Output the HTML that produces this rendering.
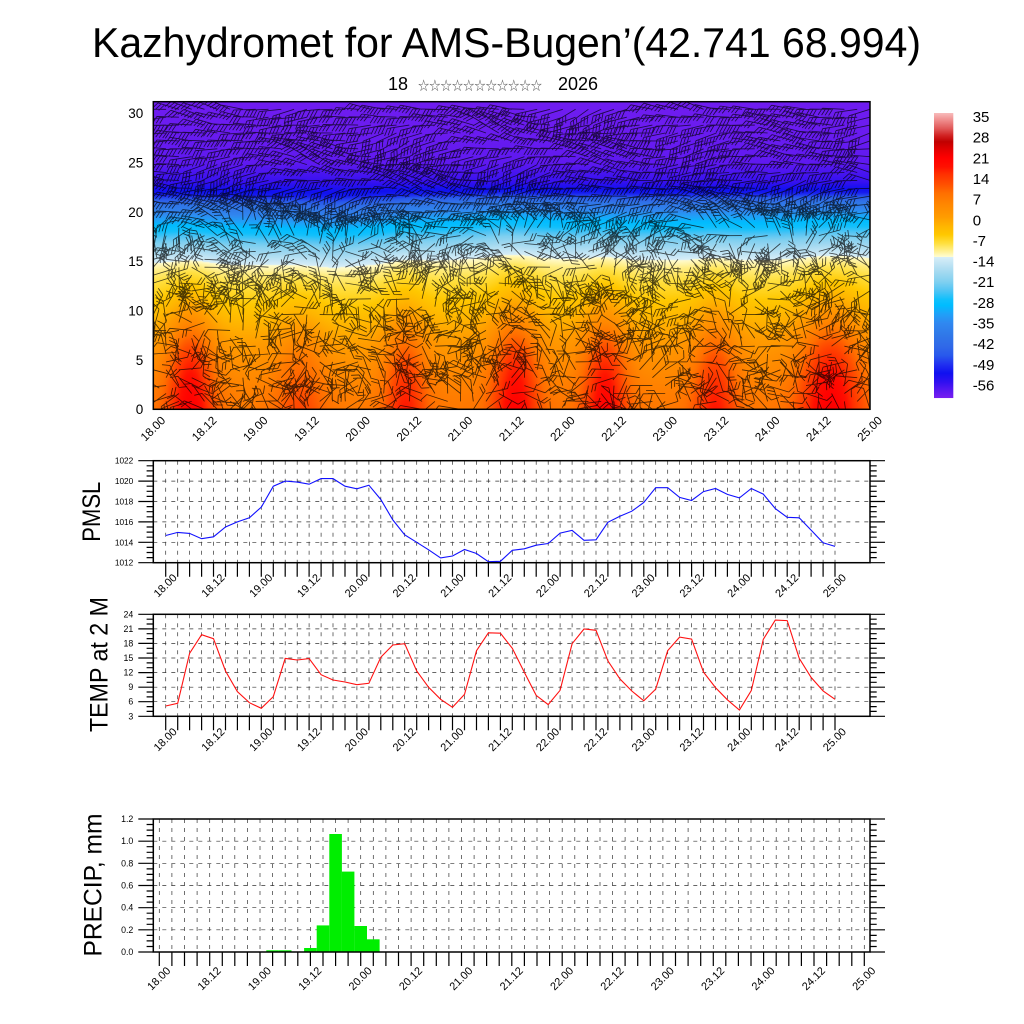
<!DOCTYPE html>
<html><head><meta charset="utf-8">
<style>
html,body{margin:0;padding:0;background:#fff;}
#wrap{position:relative;width:1024px;height:1024px;overflow:hidden;background:#fff;}
#fld{position:absolute;left:153px;top:102px;}
#s{position:absolute;left:0;top:0;}
text{font-family:"Liberation Sans",Arial,sans-serif;fill:#000;}
</style></head><body>
<div id="wrap">
<canvas id="fld" width="717" height="307"></canvas>
<svg id="s" width="1024" height="1024" xmlns="http://www.w3.org/2000/svg">
<defs><clipPath id="cp"><rect x="153.3" y="101.7" width="716.7" height="307.6"/></clipPath></defs>
<text x="92" y="57" font-size="42" textLength="829" lengthAdjust="spacingAndGlyphs">Kazhydromet for AMS-Bugen’(42.741 68.994)</text>
<text x="388" y="90" font-size="18">18</text>
<text x="418" y="90" font-size="12.5" textLength="124" lengthAdjust="spacingAndGlyphs" style="font-family:'Noto Sans CJK JP','DejaVu Sans',sans-serif;fill:#555">☆☆☆☆☆☆☆☆☆☆☆</text>
<text x="598" y="90" font-size="18" text-anchor="end">2026</text>
<text transform="translate(100,511.7) rotate(-90)" text-anchor="middle" font-size="25" textLength="60" lengthAdjust="spacingAndGlyphs">PMSL</text>
<text transform="translate(107.3,664.5) rotate(-90)" text-anchor="middle" font-size="25" textLength="135" lengthAdjust="spacingAndGlyphs">TEMP at 2 M</text>
<text transform="translate(101.5,885) rotate(-90)" text-anchor="middle" font-size="25" textLength="143" lengthAdjust="spacingAndGlyphs">PRECIP, mm</text>
</svg>
</div>
<script>
(function(){
const NS="http://www.w3.org/2000/svg";
const svg=document.getElementById('s');
function el(tag,a,p){const e=document.createElementNS(NS,tag);for(const k in a)e.setAttribute(k,a[k]);(p||svg).appendChild(e);return e;}
function tx(x,y,s,a,p){const e=el('text',Object.assign({x:x,y:y},a||{}),p);e.textContent=s;return e;}
function interp(arr,x){if(x<=arr[0][0])return arr[0][1];for(let i=0;i<arr.length-1;i++){const a=arr[i],b=arr[i+1];if(x<=b[0]){const f=(x-a[0])/(b[0]-a[0]);return a[1]+f*(b[1]-a[1]);}}return arr[arr.length-1][1];}
const CM=[[-61,'8020f0'],[-58,'5a18f0'],[-55,'3010f0'],[-52,'1010f0'],[-49,'2030f0'],[-46,'2858ec'],[-43,'3068e8'],[-39,'3078e8'],[-35,'3088f0'],[-32,'20a0f8'],[-29,'00bcff'],[-27,'10c0fc'],[-24,'50c4f4'],[-21,'80d0f0'],[-18,'a0d8f0'],[-15,'c0e4f4'],[-12.55,'d8eef8'],[-12.45,'fffcd0'],[-10.5,'fff090'],[-8,'ffe040'],[-5,'ffc800'],[-2,'ffb400'],[1,'ff9c00'],[5,'ff8800'],[9,'ff7000'],[12,'ff5000'],[15.5,'ff3000'],[18,'ff1000'],[21,'ff0000'],[24,'e00000'],[26.5,'c00000'],[28.5,'d02020'],[31,'e05858'],[34,'f09090'],[36.5,'f8c0c0']];
const CMr=CM.map(c=>[c[0],[parseInt(c[1].substr(0,2),16),parseInt(c[1].substr(2,2),16),parseInt(c[1].substr(4,2),16)]]);
function cmap(v){if(v<=CMr[0][0])return CMr[0][1];for(let i=0;i<CMr.length-1;i++){const a=CMr[i],b=CMr[i+1];if(v<=b[0]){const f=(v-a[0])/(b[0]-a[0]);return [0,1,2].map(k=>Math.round(a[1][k]+f*(b[1][k]-a[1][k])));}}return CMr[CMr.length-1][1];}
const prof=[[0,7.5],[2,6],[5,3],[7,0.5],[9,-2.5],[11,-5.5],[13,-8.5],[14,-10.3],[14.8,-12.5],[15.6,-16],[17,-22],[18,-27],[18.7,-29.5],[19.4,-33],[20.7,-40],[21.3,-46],[21.8,-51],[22.4,-53],[23,-55.5],[24,-57],[25,-58.5],[28,-59.3],[32,-59.8]];
const dzk=[[0,0],[8,-0.2],[14,-0.5],[20,0.1],[27,0.6],[36,0.3],[46,0.3],[56,0.5]];
const hots=[[2.9,14,1.8],[11.5,6,2],[19.7,10,1.6],[28.3,13,1.8],[35.3,13,1.7],[43.9,10,1.7],[52.9,14,2.4]];
function Tf(t,z){const dz=interp(dzk,t);const wz=z<20?1:Math.max(0,1-(z-20)/3);let v=interp(prof,z-dz*wz);let h=0;for(const k of hots){h+=k[1]*Math.exp(-Math.pow((t-k[0])/k[2],2));}v+=h/(1+Math.pow(z/9,4));return v;}
const cv=document.getElementById('fld');const ctx=cv.getContext('2d');const W=cv.width,H=cv.height;const img=ctx.createImageData(W,H);
for(let py=0;py<H;py++){const y=102+py+0.5;const z=(409.3-y)/9.867;for(let px=0;px<W;px++){const x=153+px+0.5;const t=(x-153.3)/12.798;const c=cmap(Tf(t,z));const o=(py*W+px)*4;img.data[o]=c[0];img.data[o+1]=c[1];img.data[o+2]=c[2];img.data[o+3]=255;}}
ctx.putImageData(img,0,0);
let d='';
for(let i=0;i<=56;i++){for(let r=0;r<=38;r++){const zr=r*0.8;const x=153.3+i*12.798,y=409.3-zr*9.867;
const n=Math.sin(0.31*i+0.7*zr+1.3)+0.7*Math.sin(0.53*i-0.41*zr+2.1)+0.5*Math.sin(0.17*i+1.1*zr+0.4)+0.4*Math.sin(1.7*i+2.3*zr);
const w=Math.min(1,Math.max(0,(zr-16)/4));const th=w*(Math.PI+0.25*n)+(1-w)*(n*2.0+Math.PI/2);
const L=22;const cs=Math.cos(th),sn=Math.sin(th);
d+='M'+x.toFixed(1)+' '+y.toFixed(1)+'L'+(x+L*cs).toFixed(1)+' '+(y-L*sn).toFixed(1);
let nf=zr>19?3:(zr>9?2:1);if(Math.sin(i*2.1+r*1.7)>0.5)nf++;
for(let k=0;k<nf;k++){const p=L-k*3.5;const bx=x+p*cs,by=y-p*sn;const fa=th+1.05;d+='M'+bx.toFixed(1)+' '+by.toFixed(1)+'l'+(8*Math.cos(fa)).toFixed(1)+' '+(-8*Math.sin(fa)).toFixed(1);}
}}
const gb=el('g',{'clip-path':'url(#cp)'});
el('path',{d:d,stroke:'#000','stroke-opacity':0.7,'stroke-width':0.85,fill:'none'},gb);
el('rect',{x:153.3,y:101.7,width:716.7,height:307.6,fill:'none',stroke:'#000','stroke-width':1.5});
for(let v=0;v<=30;v+=5){tx(143.3,409.3-v*9.867+4.8,String(v),{'font-size':13.5,'text-anchor':'end'});}
const LBL=["18.00","18.12","19.00","19.12","20.00","20.12","21.00","21.12","22.00","22.12","23.00","23.12","24.00","24.12","25.00"];
for(let i=0;i<LBL.length;i++){const x=153.3+i*4*12.798,y=429;tx(x,y,LBL[i],{'font-size':11.7,'text-anchor':'middle','dominant-baseline':'central',transform:'rotate(-45 '+x.toFixed(1)+' '+y+')'});}
for(let y=113;y<398;y++){const v=35-(y+0.5-116.7)/2.9486;const c=cmap(v);el('rect',{x:934,y:y,width:19.3,height:1.05,fill:'rgb('+c[0]+','+c[1]+','+c[2]+')'});}
const cbl=["35","28","21","14","7","0","-7","-14","-21","-28","-35","-42","-49","-56"];
for(let i=0;i<cbl.length;i++){tx(972.7,116.7+i*20.64+5.4,cbl[i],{'font-size':15});}
function panel(o){
 const L=153.3,R=870,T=o.top,B=o.bot;
 const yv=v=>B-(v-o.ymin)/(o.ymax-o.ymin)*(B-T);
 const g=el('g',{});
 let dg='';
 for(let t=0;t<=56;t++){const x=o.xt(t).toFixed(1);dg+='M'+x+' '+T+'V'+B;}
 const nmaj=Math.round((o.ymax-o.ymin)/o.major);
 for(let k=1;k<nmaj;k++){const y=yv(o.ymin+k*o.major).toFixed(1);dg+='M'+L+' '+y+'H'+R;}
 el('path',{d:dg,stroke:'#333','stroke-width':0.7,'stroke-dasharray':'4 5',fill:'none'},g);
 o.draw(yv,g);
 let tk='';
 const nmin=Math.round((o.ymax-o.ymin)/o.minor);const per=Math.round(o.major/o.minor);
 for(let k=0;k<=nmin;k++){const y=yv(o.ymin+k*o.minor).toFixed(1);const big=k%per==0;const ln=big?15:6.7;tk+='M'+(L-ln)+' '+y+'H'+L+'M'+R+' '+y+'H'+(R+ln);}
 for(let t=0;t<=56;t++){const x=o.xt(t).toFixed(1);tk+='M'+x+' '+B+'V'+(B+14);}
 el('path',{d:tk,stroke:'#000','stroke-width':1.2,fill:'none'},g);
 el('rect',{x:L,y:T,width:R-L,height:B-T,fill:'none',stroke:'#000','stroke-width':1.5},g);
 for(let k=0;k<=nmaj;k++){const v=o.ymin+k*o.major;tx(133.3,yv(v)+3,o.fmt(v),{'font-size':o.fs,'text-anchor':'end'},g);}
 for(let i=0;i<LBL.length;i++){const x=o.xt(i*4),y=o.ly;tx(x,y,LBL[i],{'font-size':11,'text-anchor':'middle','dominant-baseline':'central',transform:'rotate(-45 '+x.toFixed(1)+' '+y+')'},g);}
}
const xt1=t=>165.7+t*11.952;
const P=[1014.67,1014.97,1014.87,1014.35,1014.54,1015.5,1016.0,1016.4,1017.45,1019.5,1020.0,1019.9,1019.7,1020.25,1020.25,1019.5,1019.25,1019.6,1018.2,1016.2,1014.74,1014.0,1013.26,1012.47,1012.66,1013.29,1012.9,1012.1,1012.14,1013.22,1013.36,1013.72,1013.88,1014.9,1015.17,1014.2,1014.25,1015.96,1016.55,1017.05,1017.9,1019.35,1019.35,1018.4,1018.1,1018.97,1019.27,1018.7,1018.35,1019.27,1018.73,1017.3,1016.45,1016.4,1015.2,1013.95,1013.6];
const TT=[5.12,5.67,15.97,19.8,18.98,12.33,8.07,5.8,4.64,7.05,14.93,14.6,14.87,11.57,10.47,10.06,9.5,9.8,15.15,17.68,17.95,12.33,8.97,6.5,4.85,7.5,16.5,20.2,20.1,17.0,12.06,7.3,5.4,8.35,17.95,20.97,20.7,14.4,10.7,8.2,6.2,8.6,16.5,19.3,18.9,12.1,8.9,6.4,4.3,8.3,18.85,22.8,22.7,14.94,11.0,8.2,6.5];
panel({top:460.7,bot:562.7,ymin:1012,ymax:1022,major:2,minor:0.5,fs:8.3,fmt:v=>String(v),xt:xt1,ly:586,
 draw:(yv,g)=>{el('polyline',{points:P.map((v,i)=>xt1(i).toFixed(1)+','+yv(v).toFixed(1)).join(' '),fill:'none',stroke:'#1010ff','stroke-width':1.1},g);}});
panel({top:614.3,bot:716.3,ymin:3,ymax:24,major:3,minor:1,fs:8.8,fmt:v=>String(v),xt:xt1,ly:740,
 draw:(yv,g)=>{el('polyline',{points:TT.map((v,i)=>xt1(i).toFixed(1)+','+yv(v).toFixed(1)).join(' '),fill:'none',stroke:'#ff1010','stroke-width':1.1},g);}});
const xt3=t=>159.3+t*12.59;
const PR={9:0.015,10:0.015,12:0.036,13:0.24,14:1.065,15:0.725,16:0.235,17:0.115};
panel({top:819,bot:952,ymin:0,ymax:1.2,major:0.2,minor:0.05,fs:8.8,fmt:v=>v.toFixed(1),xt:xt3,ly:979,
 draw:(yv,g)=>{for(const k in PR){const t=+k;const x0=xt3(t)-6.3;const y0=yv(PR[k]);el('rect',{x:x0.toFixed(1),y:y0.toFixed(1),width:12.6,height:(952-y0).toFixed(1),fill:'#00ee00'},g);}}});
})();
</script>
</body></html>
